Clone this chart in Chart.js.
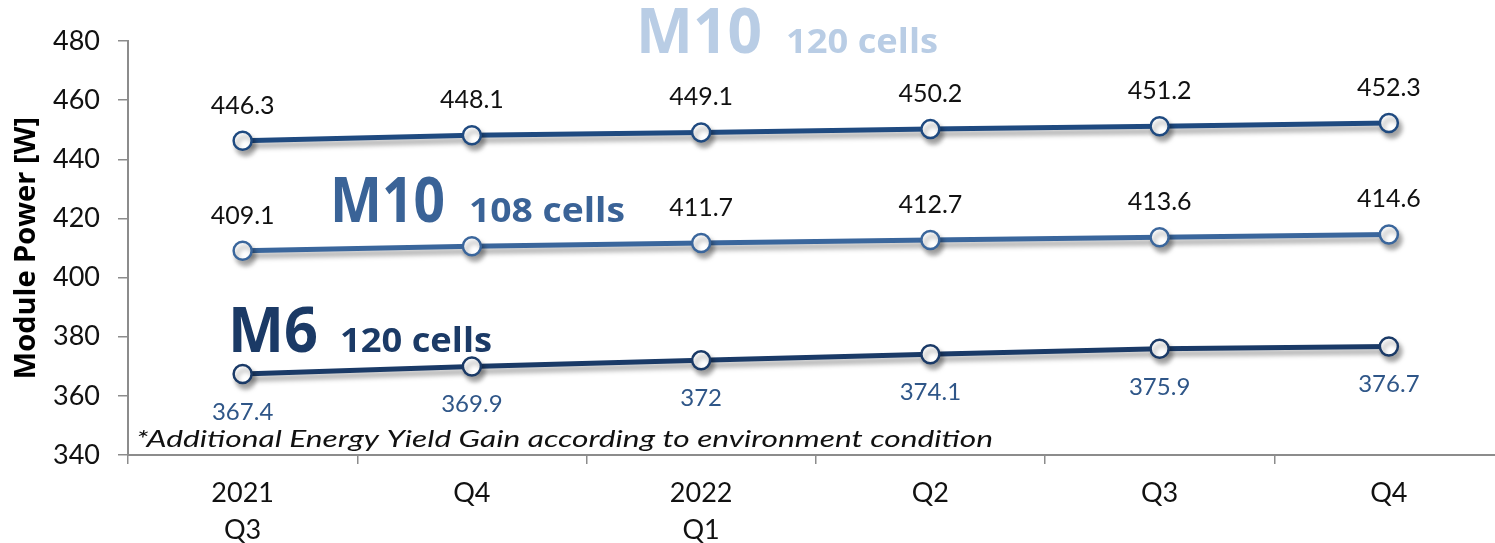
<!DOCTYPE html>
<html><head><meta charset="utf-8">
<script src="https://cdn.jsdelivr.net/npm/chart.js@4.4.1/dist/chart.umd.min.js"></script>
<style>
html,body{margin:0;padding:0;overflow:hidden;background:#fff;}
#wrap{position:relative;width:1515px;height:543px;}
</style></head><body>
<div id="wrap"><canvas id="c" width="1515" height="543"></canvas></div>
<script>
const categories = [["2021","Q3"],"Q4",["2022","Q1"],"Q2","Q3","Q4"];
const m10_120 = [446.3,448.1,449.1,450.2,451.2,452.3];
const m10_108 = [409.1,410.6,411.7,412.7,413.6,414.6];
const m6_120  = [367.4,369.9,372,374.1,375.9,376.7];
const yTicks = [340,360,380,400,420,440,460,480];
const seriesNames = ["M10 120 cells","M10 108 cells","M6 120 cells"];
const hiddenLabels = {1:[1]};

const colors = ["#1F4A80","#3A669C","#1A3A67"];
const labelColors = ["#111111","#111111","#2F5688"];
const labelPos = ["above","above","below"];

const shadowPlugin = {
  id:'shadow',
  beforeDatasetDraw(chart){
    const ctx=chart.ctx; ctx.save();
    ctx.shadowColor='rgba(0,0,0,0.35)'; ctx.shadowBlur=5; ctx.shadowOffsetX=3; ctx.shadowOffsetY=5;
  },
  afterDatasetDraw(chart){ chart.ctx.restore(); }
};

function fitText(ctx,text,x,y,targetW){
  const w=ctx.measureText(text).width;
  ctx.save(); ctx.translate(x,y); ctx.scale(targetW/w,1); ctx.fillText(text,0,0); ctx.restore();
}

const labelPlugin = {
  id:'labels',
  afterDatasetsDraw(chart){
    const ctx=chart.ctx;
    ctx.save();
    chart.data.datasets.forEach((ds,i)=>{
      const meta=chart.getDatasetMeta(i);
      ctx.font=(i===2?'24px':'25px')+' Lato';
      ctx.fillStyle=labelColors[i];
      ctx.textAlign='center';
      ctx.textBaseline='middle';
      meta.data.forEach((pt,j)=>{
        if(hiddenLabels[i] && hiddenLabels[i].includes(j)) return;
        const dy = labelPos[i]==='above' ? -35 : 38;
        ctx.fillText(String(ds.data[j]), pt.x, pt.y+dy);
      });
    });
    ctx.textAlign='left'; ctx.textBaseline='alphabetic';
    const ann=[
      {big:"M10",small:"120 cells",x:636,y:53,wb:126,ws:152,c:"#B9CDE5"},
      {big:"M10",small:"108 cells",x:330,y:222,wb:115,ws:156,c:"#3A6397"},
      {big:"M6",small:"120 cells",x:228,y:352,wb:90,ws:152,c:"#1B3A66"}
    ];
    ann.forEach((a,k)=>{
      ctx.fillStyle=a.c;
      ctx.font='bold 62px "Open Sans"';
      fitText(ctx,a.big,a.x,a.y,a.wb);
      ctx.font='bold 34px "Open Sans"';
      const sx = a.x + a.wb + (k===2?22:24);
      fitText(ctx,a.small,sx,a.y,a.ws);
    });
    ctx.fillStyle='#111';
    ctx.font='italic 24px Lato';
    fitText(ctx,"*Additional Energy Yield Gain according to environment condition",136,447,857);
    ctx.restore();
  }
};

const mk=(d,i)=>({label:seriesNames[i],data:d,borderColor:colors[i],borderWidth:5,
  pointRadius:9,pointBackgroundColor:'#fff',pointBorderColor:colors[i],pointBorderWidth:2.5,tension:0});

new Chart(document.getElementById('c'),{
  type:'line',
  data:{labels:categories,datasets:[mk(m10_120,0),mk(m10_108,1),mk(m6_120,2)]},
  plugins:[shadowPlugin,labelPlugin],
  options:{
    responsive:false,animation:false,
    layout:{padding:{top:41,left:0,right:0,bottom:0}},
    plugins:{legend:{display:false},tooltip:{enabled:false}},
    scales:{
      x:{offset:true,
        grid:{offset:true,drawOnChartArea:false,drawTicks:true,tickLength:9,color:'#8c8c8c',lineWidth:1.5},
        border:{color:'#8c8c8c',width:2},
        ticks:{color:'#111',font:{family:'Lato',size:27,lineHeight:1.4},padding:10,maxRotation:0},
        afterFit(s){s.height=88;}
      },
      y:{min:340,max:480,
        afterBuildTicks(s){s.ticks=yTicks.map(v=>({value:v}));},
        grid:{drawOnChartArea:false,drawTicks:true,tickLength:10,color:'#8c8c8c',lineWidth:1.5},
        border:{color:'#8c8c8c',width:2},
        ticks:{color:'#111',font:{family:'Lato',size:27},padding:18},
        title:{display:true,text:'Module Power [W]',color:'#000',font:{family:'Open Sans',size:29,weight:'bold',lineHeight:1.2},padding:{top:9,bottom:0}},
        afterFit(s){s.width=128;}
      }
    }
  }
});
</script></body></html>
